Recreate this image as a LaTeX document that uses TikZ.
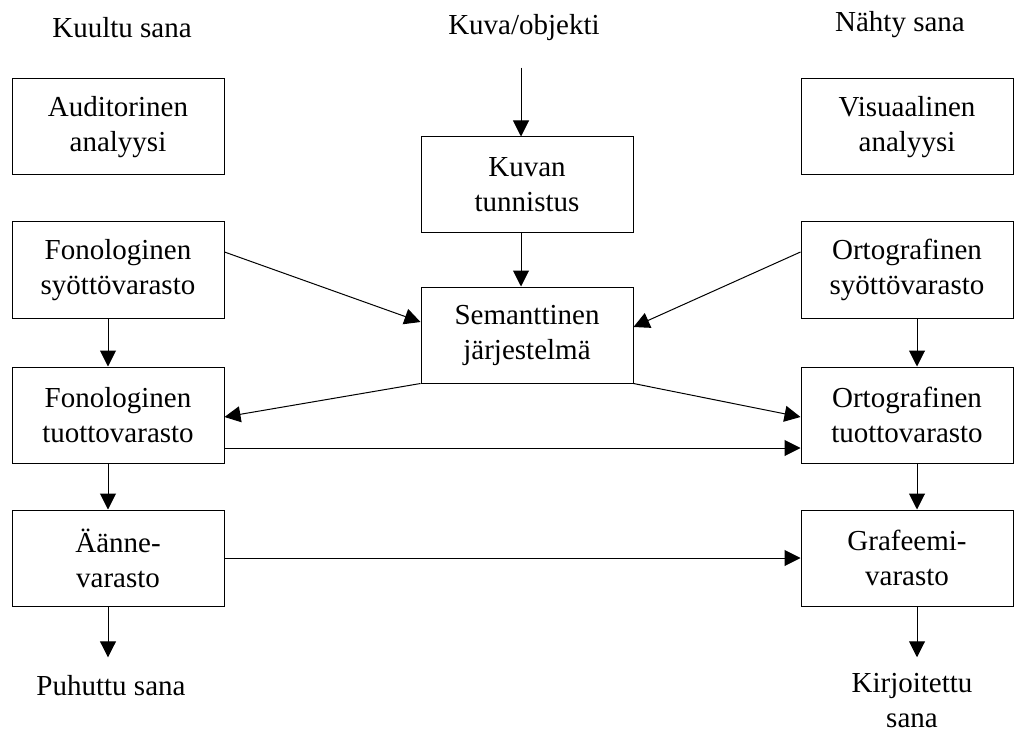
\documentclass[tikz,border=0pt]{standalone}
\usepackage{fontspec}
\setmainfont{Liberation Serif}
\usetikzlibrary{arrows.meta}
\def\h{0.75pt}
\def\schrift{\fontsize{21.75}{26.25}\selectfont}

\begin{document}
\begin{tikzpicture}[>={Triangle[length=12pt,width=12pt]},line width=0.75pt,
	kasten/.style={draw,minimum width=212*\h,minimum height=96*\h,align=center,inner sep=0pt,font=\schrift},
	wort/.style={align=center,inner sep=0pt,font=\schrift}]
\useasboundingbox (0,0) rectangle ({1014*\h},{-731*\h});
% Eingaben
\node[wort] (kuultu) at ({122*\h},{-28*\h}) {Kuultu sana};
\node[wort] (kuva)   at ({524*\h},{-28*\h}) {Kuva/objekti};
\node[wort] (nahty)  at ({900*\h},{-25*\h}) {Nähty sana};
% Kaesten
\node[kasten] (aud) at ({118*\h},{-127*\h}) {Auditorinen\\analyysi};
\node[kasten] (vis) at ({907*\h},{-127*\h}) {Visuaalinen\\analyysi};
\node[kasten] (kt)  at ({527*\h},{-185*\h}) {Kuvan\\tunnistus};
\node[kasten] (fs)  at ({118*\h},{-270*\h}) {Fonologinen\\syöttövarasto};
\node[kasten] (os)  at ({907*\h},{-270*\h}) {Ortografinen\\syöttövarasto};
\node[kasten] (sem) at ({527*\h},{-335*\h}) {Semanttinen\\järjestelmä};
\node[kasten] (ft)  at ({118*\h},{-415*\h}) {Fonologinen\\tuottovarasto};
\node[kasten] (ot)  at ({907*\h},{-415*\h}) {Ortografinen\\tuottovarasto};
\node[kasten] (aa)  at ({118*\h},{-558*\h}) {Äänne-\\varasto};
\node[kasten] (gr)  at ({907*\h},{-558*\h}) {Grafeemi-\\varasto};
% Ausgaben
\node[wort] (puh) at ({111*\h},{-686*\h}) {Puhuttu sana};
\node[wort] (kir) at ({912*\h},{-701*\h}) {Kirjoitettu\\sana};
% Pfeile
\draw[->] ([xshift={-6*\h},yshift={-26*\h}]kt.north |- kuva.south) -- ([xshift={-6*\h}]kt.north);
\draw[->] ([xshift={-6*\h}]kt.south) -- ([xshift={-6*\h}]sem.north);
\draw[->] ([xshift={-10*\h}]fs.south) -- ([xshift={-10*\h}]ft.north);
\draw[->] ([xshift={-10*\h}]ft.south) -- ([xshift={-10*\h}]aa.north);
\draw[->,shorten >={18*\h}] ([xshift={-10*\h}]aa.south) -- ([xshift={-10*\h}]aa.south |- puh.north);
\draw[->] ([xshift={10*\h}]os.south) -- ([xshift={10*\h}]ot.north);
\draw[->] ([xshift={10*\h}]ot.south) -- ([xshift={10*\h}]gr.north);
\draw[->,shorten >={16*\h}] ([xshift={10*\h}]gr.south) -- ([xshift={10*\h}]gr.south |- kir.north);
\draw[->] ([yshift={18*\h}]fs.east) -- ([yshift={13*\h}]sem.west);
\draw[->] ([yshift={18*\h}]os.west) -- ([yshift={8*\h}]sem.east);
\draw[->] (sem.south west) -- ([yshift={-2*\h}]ft.east);
\draw[->] (sem.south east) -- ([yshift={-2*\h}]ot.west);
\draw[->] ([yshift={-33*\h}]ft.east) -- ([yshift={-33*\h}]ot.west);
\draw[->] (aa.east) -- (gr.west);
\end{tikzpicture}
\end{document}
